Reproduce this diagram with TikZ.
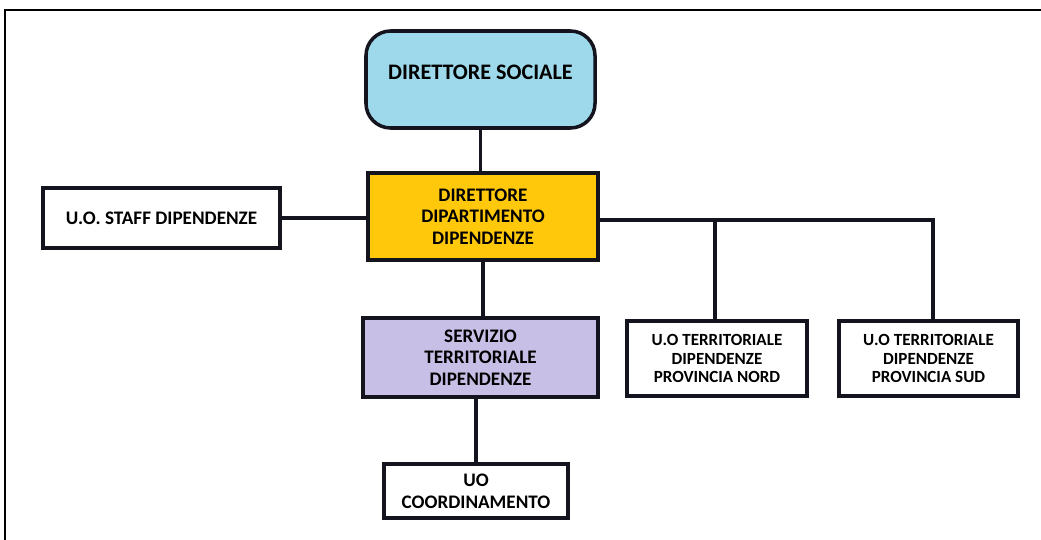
\documentclass[tikz,border=0pt]{standalone}
\usepackage{fontspec}
\setmainfont{Carlito}
\usepackage{tikz}
\definecolor{sky}{RGB}{157, 217, 234}
\definecolor{gold}{RGB}{255, 200, 10}
\definecolor{lilac}{RGB}{200, 191, 230}
\definecolor{ink}{RGB}{20, 20, 30}

\begin{document}
\begin{tikzpicture}[x=0.02cm, y=-0.02cm,
    box/.style={draw=ink, line width=2pt, align=center, font=\bfseries\fontsize{10.9}{12.3}\selectfont, inner sep=2pt},
    small/.style={font=\bfseries\fontsize{9.7}{10.3}\selectfont},
    link/.style={draw=ink, line width=2pt}]
  \useasboundingbox (0, 0) rectangle (1041, 540);
  \draw[line width=1.4pt] (5, 540) -- (5, 10) -- (1041, 10);

  \node[box, fill=sky, rounded corners=14pt, minimum width=229*0.02cm, minimum height=97*0.02cm,
        font=\bfseries\fontsize{12.6}{14}\selectfont, text depth=8pt] (soc) at (480.5, 79.5) {DIRETTORE SOCIALE};
  \node[box, fill=gold, minimum width=230*0.02cm, minimum height=87*0.02cm] (dip) at (483, 216.5)
    {DIRETTORE\\DIPARTIMENTO\\DIPENDENZE};
  \node[box, minimum width=237*0.02cm, minimum height=60*0.02cm] (staff) at (161.5, 218) {U.O. STAFF DIPENDENZE};
  \node[box, fill=lilac, minimum width=235*0.02cm, minimum height=79*0.02cm] (serv) at (480.5, 357.5)
    {SERVIZIO\\TERRITORIALE\\DIPENDENZE};
  \node[box, small, minimum width=180*0.02cm, minimum height=75*0.02cm] (nord) at (717, 358.5)
    {U.O TERRITORIALE\\DIPENDENZE\\PROVINCIA NORD};
  \node[box, small, minimum width=179*0.02cm, minimum height=75*0.02cm] (sud) at (928.5, 358.5)
    {U.O TERRITORIALE\\DIPENDENZE\\PROVINCIA SUD};
  \node[box, minimum width=184*0.02cm, minimum height=54*0.02cm] (coord) at (476, 491) {UO\\COORDINAMENTO};
  \coordinate (fork) at ([yshift=-0.07cm]dip.east);

  % connectors
  \draw[link] (soc.south) -- (soc.south |- dip.north);
  \draw[link] (staff.east) -- (staff.east -| dip.west);
  \draw[link] (fork) -| ([xshift=0.09cm]sud.north);
  \draw[link] ([xshift=-0.04cm]nord.north) -- ([xshift=-0.04cm]nord.north |- fork);
  \draw[link] (dip.south) -- (dip.south |- serv.north);
  \draw[link] (coord.north) -- (coord.north |- serv.south);
\end{tikzpicture}
\end{document}
